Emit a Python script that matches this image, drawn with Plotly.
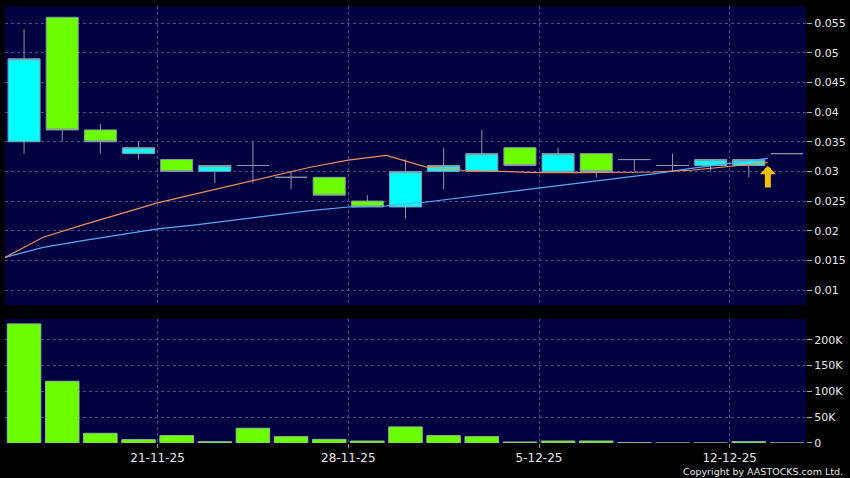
import plotly.graph_objects as go

# ---------------- data ----------------
dates = ["17-11-25", "18-11-25", "19-11-25", "20-11-25", "21-11-25",
         "24-11-25", "25-11-25", "26-11-25", "27-11-25", "28-11-25",
         "1-12-25", "2-12-25", "3-12-25", "4-12-25", "5-12-25",
         "8-12-25", "9-12-25", "10-12-25", "11-12-25", "12-12-25", "15-12-25"]
open_ = [0.035, 0.056, 0.037, 0.033, 0.032, 0.030, 0.031, 0.029, 0.029, 0.025, 0.024,
         0.030, 0.030, 0.034, 0.030, 0.033, 0.032, 0.031, 0.031, 0.031, 0.033]
high = [0.054, 0.056, 0.038, 0.035, 0.032, 0.031, 0.035, 0.030, 0.029, 0.026, 0.032,
        0.034, 0.037, 0.034, 0.034, 0.033, 0.032, 0.033, 0.032, 0.032, 0.033]
low = [0.033, 0.035, 0.033, 0.032, 0.030, 0.028, 0.028, 0.027, 0.026, 0.024, 0.022,
       0.027, 0.030, 0.031, 0.030, 0.029, 0.030, 0.030, 0.030, 0.029, 0.033]
close = [0.049, 0.037, 0.035, 0.034, 0.030, 0.031, 0.031, 0.029, 0.026, 0.024, 0.030,
         0.031, 0.033, 0.031, 0.033, 0.030, 0.032, 0.031, 0.032, 0.032, 0.033]
ma_short = [0.0155, 0.0189, 0.0209, 0.0228, 0.0247, 0.0262, 0.0277, 0.0293, 0.0307, 0.0319,
            0.0327, 0.0308, 0.0302, 0.0300, 0.0298, 0.0298, 0.0299, 0.0299, 0.0302, 0.0309, 0.0315]
ma_long = [0.0155, 0.0172, 0.0183, 0.0193, 0.0203, 0.0210, 0.0218, 0.0225, 0.0234, 0.0240,
           0.0242, 0.0248, 0.0256, 0.0264, 0.0271, 0.0279, 0.0288, 0.0296, 0.0305, 0.0313, 0.0322]
volume = [230500, 119500, 18800, 6500, 14300, 2600, 28600, 12300, 7100, 3900, 31200,
          14300, 12300, 2000, 3900, 3900, 1000, 0, 0, 2600, 0]
tick_dates = ["21-11-25", "28-11-25", "5-12-25", "12-12-25"]
price_ticks = [0.01, 0.015, 0.02, 0.025, 0.03, 0.035, 0.04, 0.045, 0.05, 0.055]
price_labels = ["0.01", "0.015", "0.02", "0.025", "0.03", "0.035", "0.04", "0.045", "0.05", "0.055"]
vol_ticks = [0, 50000, 100000, 150000, 200000]
vol_labels = ["0", "50K", "100K", "150K", "200K"]

# ---------------- styling ----------------
BG = "#000040"
GRID = "#4c4c86"
TXT = "#e8e8e8"
CYAN = "#00ffff"
GREEN = "#6cff00"
EDGE = "#8898a4"
FONT = "DejaVu Sans"

xs = list(range(len(dates)))
ma_x = [i - 0.5 for i in xs]
tick_pos = [dates.index(d) - 0.5 for d in tick_dates]

fig = go.Figure()

fig.add_trace(go.Candlestick(
    x=xs, open=open_, high=high, low=low, close=close,
    increasing=dict(fillcolor=CYAN, line=dict(color=EDGE, width=1)),
    decreasing=dict(fillcolor=GREEN, line=dict(color=EDGE, width=1)),
    whiskerwidth=0, xaxis="x", yaxis="y", showlegend=False, hoverinfo="skip",
))
fig.add_trace(go.Scatter(x=ma_x, y=ma_long, mode="lines",
                         line=dict(color="#5aaaf0", width=1.2),
                         xaxis="x", yaxis="y", showlegend=False, hoverinfo="skip"))
fig.add_trace(go.Scatter(x=ma_x, y=ma_short, mode="lines",
                         line=dict(color="#f0905a", width=1.2),
                         xaxis="x", yaxis="y", showlegend=False, hoverinfo="skip"))

fig.add_trace(go.Bar(x=xs, y=volume, width=0.88,
                     marker=dict(color=GREEN, line=dict(color="#90b890", width=1)),
                     xaxis="x2", yaxis="y2", showlegend=False, hoverinfo="skip"))

axis_common = dict(showline=False, zeroline=False, gridcolor=GRID, griddash="3px,3px",
                   gridwidth=1)

fig.update_layout(
    width=850, height=478,
    margin=dict(l=5, r=44, t=6, b=35),
    paper_bgcolor="black", plot_bgcolor=BG,
    font=dict(family=FONT, size=11, color=TXT),
    boxgap=0.16, boxgroupgap=0,
    xaxis=dict(domain=[0, 1], anchor="y", range=[-0.5, 20.5],
               tickvals=tick_pos, ticktext=tick_dates, showticklabels=False,
               rangeslider=dict(visible=False), **axis_common),
    yaxis=dict(domain=[0.3158, 1], anchor="x", side="right",
               range=[0.00747, 0.0579], tickvals=price_ticks, ticktext=price_labels,
               ticks="outside", ticklen=5, tickcolor="#b0b0b0",
               automargin=False, **axis_common),
    xaxis2=dict(domain=[0, 1], anchor="y2", matches="x", range=[-0.5, 20.5],
                tickvals=tick_pos, ticktext=tick_dates,
                ticks="outside", ticklen=4, tickcolor="#909090",
                tickfont=dict(size=12), automargin=False, **axis_common),
    yaxis2=dict(domain=[0, 0.2838], anchor="x2", side="right",
                range=[0, 240000], tickvals=vol_ticks, ticktext=vol_labels,
                ticks="outside", ticklen=5, tickcolor="#b0b0b0",
                automargin=False, **axis_common),
)

# arrow marking the latest session
fig.add_annotation(x=tick_pos[-1] + 1, y=0.0309, xref="x", yref="y",
                   ax=0, ay=23, showarrow=True, arrowhead=1, arrowsize=0.45,
                   arrowwidth=6, arrowcolor="#f5c000", text="")

fig.add_annotation(text="Copyright by AASTOCKS.com Ltd.", xref="paper", yref="paper",
                   x=1, y=0, xanchor="right", yanchor="middle", xshift=39, yshift=-28,
                   showarrow=False, font=dict(family=FONT, size=9.5, color=TXT))

fig.write_html("out.html", config={"displayModeBar": False},
               post_script="document.body.style.margin='0';document.body.style.padding='0';")
